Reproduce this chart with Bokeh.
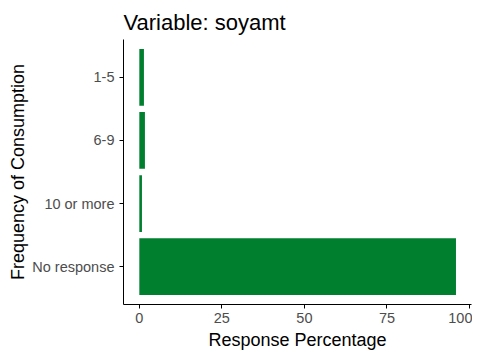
from bokeh.plotting import figure
from bokeh.models import FactorRange, Range1d, FixedTicker
from bokeh.embed import file_html
from bokeh.resources import INLINE

categories = ["No response", "10 or more", "6-9", "1-5"]
percentages = [95.9, 0.8, 1.7, 1.4]
x_ticks = [0, 25, 50, 75, 100]

FONT = "Liberation Sans"

p = figure(
    width=472, height=352,
    y_range=FactorRange(factors=categories, range_padding=0.1, range_padding_units="absolute"),
    x_range=Range1d(-4.79, 100.6),
    output_backend="svg", toolbar_location=None,
    min_border_left=123, min_border_right=1, min_border_top=39, min_border_bottom=48,
    title="Variable: soyamt",
)

p.hbar(y=categories, right=percentages, left=0, height=0.9, color="#00802F", line_color=None)

p.title.text_font = FONT
p.title.text_font_size = "22px"
p.title.text_font_style = "normal"
p.title.text_color = "black"
p.title.align = "left"

p.xgrid.visible = False
p.ygrid.visible = False
p.outline_line_color = None
p.background_fill_color = "white"
p.border_fill_color = "white"

p.xaxis.ticker = FixedTicker(ticks=x_ticks)
p.xaxis.axis_label = "Response Percentage"
p.yaxis.axis_label = "Frequency of Consumption"

for ax in (p.xaxis[0], p.yaxis[0]):
    ax.axis_line_color = "black"
    ax.axis_line_width = 1
    ax.major_tick_line_color = "black"
    ax.major_tick_out = 4
    ax.major_tick_in = 0
    ax.minor_tick_line_color = None
    ax.major_label_text_font = FONT
    ax.major_label_text_font_size = "14.5px"
    ax.major_label_text_color = "#4D4D4D"
    ax.axis_label_text_font = FONT
    ax.axis_label_text_font_size = "18px"
    ax.axis_label_text_font_style = "normal"
    ax.axis_label_text_color = "black"

p.xaxis.major_label_standoff = 4
p.yaxis.major_label_standoff = 5
p.xaxis.axis_label_standoff = 4
p.yaxis.axis_label_standoff = 1

open("out.html", "w").write(file_html(p, INLINE))
